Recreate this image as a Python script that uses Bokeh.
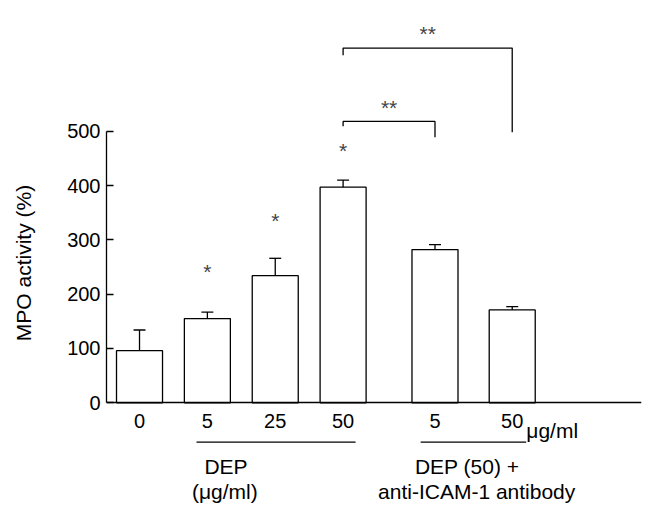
from bokeh.plotting import figure
from bokeh.models import FixedTicker, Label, Range1d
from bokeh.core.properties import value
from bokeh.embed import file_html
from bokeh.resources import INLINE

# ---- data ----
tick_labels = ["0", "5", "25", "50", "5", "50"]
mpo_mean = [96, 155, 234, 397, 282, 171]
mpo_err = [38, 12, 32, 13, 9, 6]
star_text = ["*", "*", "*"]
star_bar = [1, 2, 3]
star_y = [249, 343, 472]
# significance brackets: (left bar, right bar), heights
bracket_pairs = [(3, 4), (3, 5)]
bracket_top = [518, 653]
bracket_left_end = [509, 640]
bracket_right_end = [489, 498]
bracket_text = ["**", "**"]
bracket_text_y = [551, 687]
y_ticks = [0, 100, 200, 300, 400, 500]

# ---- layout ----
x_pos = [0, 1, 2, 3, 4.354, 5.492]
bar_w = 0.678
cap_half = 0.088
FONT = "Liberation Sans"

p = figure(width=650, height=506, output_backend="svg", toolbar_location=None,
           x_range=Range1d(-0.4865, 7.397), y_range=Range1d(-190.9, 705.6),
           min_border_left=106, min_border_right=9, min_border_top=19,
           min_border_bottom=0)
p.outline_line_color = None
p.xgrid.visible = False
p.ygrid.visible = False
p.background_fill_color = "white"

# bars
p.vbar(x=x_pos, top=mpo_mean, width=bar_w, bottom=0, fill_color="white",
       line_color="black", line_width=1.3)
# error bars (upper only)
err_top = [m + e for m, e in zip(mpo_mean, mpo_err)]
p.segment(x0=x_pos, y0=mpo_mean, x1=x_pos, y1=err_top, line_color="black", line_width=1.3)
p.segment(x0=[x - cap_half for x in x_pos], y0=err_top,
          x1=[x + cap_half for x in x_pos], y1=err_top, line_color="black", line_width=1.3)

# stars above bars
p.text(x=[x_pos[i] for i in star_bar], y=star_y, text=star_text,
       text_font=value(FONT), text_font_size="21px", text_align="center",
       text_baseline="middle", text_color="#444444", y_offset=4)

# brackets
xs, ys, tx = [], [], []
for (a, b), top, le, re in zip(bracket_pairs, bracket_top, bracket_left_end, bracket_right_end):
    xs.append([x_pos[a], x_pos[a], x_pos[b], x_pos[b]])
    ys.append([le, top, top, re])
    tx.append((x_pos[a] + x_pos[b]) / 2)
p.multi_line(xs=xs, ys=ys, line_color="black", line_width=1.3)
p.text(x=tx, y=bracket_text_y, text=bracket_text, text_font=value(FONT),
       text_font_size="21px", text_align="center", text_baseline="middle",
       text_color="#444444", y_offset=4)

# y axis
ya = p.yaxis[0]
ya.bounds = (0, 500)
ya.ticker = FixedTicker(ticks=y_ticks)
ya.major_tick_in = 7
ya.major_tick_out = 0
ya.minor_tick_line_color = None
ya.axis_line_width = 1.3
ya.major_tick_line_width = 1.3
ya.axis_line_color = "black"
ya.major_tick_line_color = "black"
ya.major_label_text_font = FONT
ya.major_label_text_font_size = "20px"
ya.major_label_text_color = "black"
ya.major_label_standoff = 6
ya.axis_label = "MPO activity (%)"
ya.axis_label_text_font = FONT
ya.axis_label_text_font_size = "21px"
ya.axis_label_text_font_style = "normal"
ya.axis_label_text_color = "black"
ya.axis_label_standoff = 29

# x axis, drawn at y = 0 inside the frame
xa = p.xaxis[0]
xa.fixed_location = 0
xa.ticker = FixedTicker(ticks=x_pos)
xa.major_label_overrides = {x: t for x, t in zip(x_pos, tick_labels)}
xa.major_tick_in = 0
xa.major_tick_out = 0
xa.minor_tick_line_color = None
xa.axis_line_width = 1.3
xa.axis_line_color = "black"
xa.major_label_text_font = FONT
xa.major_label_text_font_size = "20px"
xa.major_label_text_color = "black"
xa.major_label_standoff = 11

# texts and lines below the axis
def lab(x, y, text, align="center", baseline="middle"):
    p.add_layout(Label(x=x, y=y, text=text, text_align=align, text_baseline=baseline,
                       text_font=FONT, text_font_size="21px", text_color="black"))

lab(5.70, -51, "\u03bcg/ml", "left", "alphabetic")
lab(1.275, -118, "DEP")
lab(1.257, -164, "(\u03bcg/ml)")
lab(4.828, -118, "DEP (50) +")
lab(4.968, -164, "anti-ICAM-1 antibody")
p.segment(x0=[0.840, 4.143], y0=[-72.5, -72.5], x1=[3.184, 5.698], y1=[-72.5, -72.5],
          line_color="black", line_width=1.3)

open("out.html", "w").write(file_html(p, INLINE))
